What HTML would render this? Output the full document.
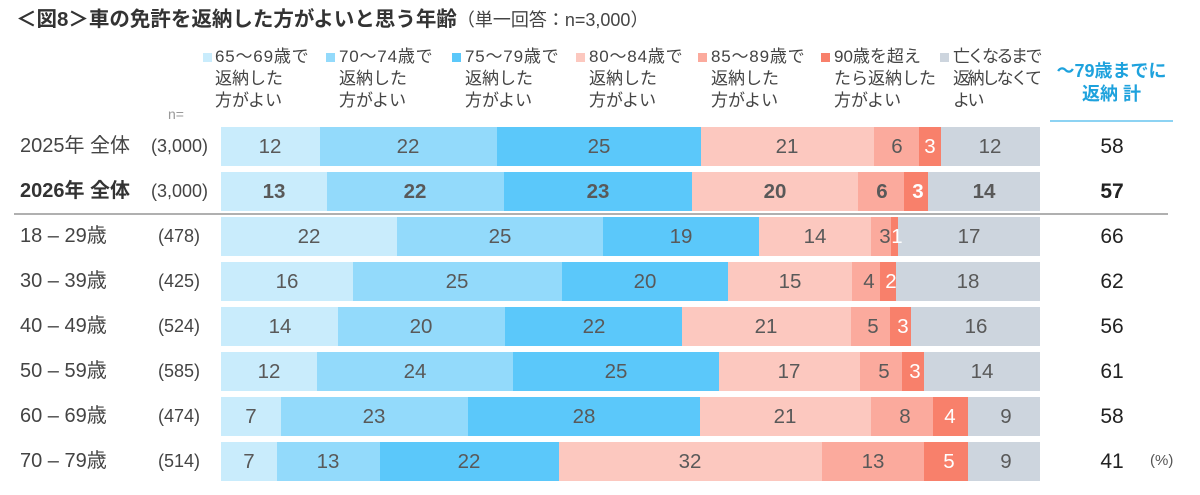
<!DOCTYPE html>
<html><head><meta charset="utf-8">
<style>
*{margin:0;padding:0;box-sizing:border-box}
body{width:1200px;height:495px;overflow:hidden;background:#fff;position:relative;font-family:"Liberation Sans","Noto Sans CJK JP",sans-serif;color:#333}
.a{position:absolute;white-space:nowrap}
.s{position:absolute;height:39px}
.c1{background:#c9ecfc}.c2{background:#93dafb}.c3{background:#5bc8fa}.c4{background:#fcc8bf}.c5{background:#fbaa9d}.c6{background:#f8806b}.c7{background:#cdd5de}
.l{position:absolute;transform:translateX(-50%);font-size:20.5px;line-height:39px;height:39px;color:#595959;white-space:nowrap}
.w{color:#fff}
.b{font-weight:bold}
.lg{position:absolute;font-size:17px;line-height:22px;color:#444;white-space:nowrap}
.lg .d{letter-spacing:0.8px}
.sq{position:absolute;width:9px;height:9px;top:53px}
.rl{position:absolute;font-size:20px;line-height:39px;color:#444;white-space:nowrap}
.rn{position:absolute;font-size:18px;line-height:39px;color:#444;white-space:nowrap}
.rv{position:absolute;left:1072px;width:80px;text-align:center;font-size:21px;line-height:39px;color:#222}
</style></head><body>

<div class="a" style="left:16px;top:6px;font-size:20.5px;line-height:28px;font-weight:bold;color:#333">＜図8＞車の免許を返納した方がよいと思う年齢<span style="font-weight:normal;font-size:18px;color:#444">（単一回答：n=3,000）</span></div>

<!-- legend -->
<div class="sq c1" style="left:203px"></div>
<div class="lg" style="left:215px;top:46px"><span class="d">65～69歳で</span><br>返納した<br>方がよい</div>
<div class="sq c2" style="left:326px"></div>
<div class="lg" style="left:339px;top:46px"><span class="d">70～74歳で</span><br>返納した<br>方がよい</div>
<div class="sq c3" style="left:452px"></div>
<div class="lg" style="left:465px;top:46px"><span class="d">75～79歳で</span><br>返納した<br>方がよい</div>
<div class="sq c4" style="left:576px"></div>
<div class="lg" style="left:589px;top:46px"><span class="d">80～84歳で</span><br>返納した<br>方がよい</div>
<div class="sq c5" style="left:698px"></div>
<div class="lg" style="left:711px;top:46px"><span class="d">85～89歳で</span><br>返納した<br>方がよい</div>
<div class="sq c6" style="left:821px"></div>
<div class="lg" style="left:834px;top:46px">90歳を超え<br>たら返納した<br>方がよい</div>
<div class="sq c7" style="left:940px"></div>
<div class="lg" style="left:953px;top:46px;letter-spacing:-2.5px">亡くなるまで<br>返納しなくて<br>よい</div>

<div class="a" style="left:1048px;top:60px;width:127px;text-align:center;font-size:18px;line-height:23px;font-weight:bold;color:#1ea2dd">～79歳までに<br>返納 計</div>
<div class="a" style="left:1050px;top:120px;width:123px;height:2px;background:#8dd3f3"></div>

<div class="a" style="left:168px;top:106px;font-size:14px;color:#999">n=</div>

<!-- separator -->
<div class="a" style="left:14px;top:213px;width:1154px;height:2px;background:#b0b0b0"></div>

<!-- Row 0 -->
<div class="rl" style="left:20px;top:127px">2025年 全体</div>
<div class="rn" style="left:151px;top:127px">(3,000)</div>
<div class="s c1" style="left:221px;top:127px;width:99px"></div>
<div class="s c2" style="left:320px;top:127px;width:177px"></div>
<div class="s c3" style="left:497px;top:127px;width:204px"></div>
<div class="s c4" style="left:701px;top:127px;width:173px"></div>
<div class="s c5" style="left:874px;top:127px;width:45px"></div>
<div class="s c6" style="left:919px;top:127px;width:22px"></div>
<div class="s c7" style="left:941px;top:127px;width:99px"></div>
<div class="l" style="left:270px;top:127px">12</div>
<div class="l" style="left:408px;top:127px">22</div>
<div class="l" style="left:599px;top:127px">25</div>
<div class="l" style="left:787px;top:127px">21</div>
<div class="l" style="left:897px;top:127px">6</div>
<div class="l w" style="left:930px;top:127px">3</div>
<div class="l" style="left:990px;top:127px">12</div>
<div class="rv" style="top:127px">58</div>

<!-- Row 1 -->
<div class="rl b" style="left:20px;top:172px;color:#333">2026年 全体</div>
<div class="rn" style="left:151px;top:172px">(3,000)</div>
<div class="s c1" style="left:221px;top:172px;width:106px"></div>
<div class="s c2" style="left:327px;top:172px;width:177px"></div>
<div class="s c3" style="left:504px;top:172px;width:188px"></div>
<div class="s c4" style="left:692px;top:172px;width:166px"></div>
<div class="s c5" style="left:858px;top:172px;width:46px"></div>
<div class="s c6" style="left:904px;top:172px;width:24px"></div>
<div class="s c7" style="left:928px;top:172px;width:112px"></div>
<div class="l b" style="left:274px;top:172px">13</div>
<div class="l b" style="left:415px;top:172px">22</div>
<div class="l b" style="left:598px;top:172px">23</div>
<div class="l b" style="left:775px;top:172px">20</div>
<div class="l b" style="left:882px;top:172px">6</div>
<div class="l b w" style="left:918px;top:172px">3</div>
<div class="l b" style="left:984px;top:172px">14</div>
<div class="rv b" style="top:172px">57</div>

<!-- Row 2 -->
<div class="rl" style="left:20px;top:217px">18 – 29歳</div>
<div class="rn" style="left:158px;top:217px">(478)</div>
<div class="s c1" style="left:221px;top:217px;width:176px"></div>
<div class="s c2" style="left:397px;top:217px;width:206px"></div>
<div class="s c3" style="left:603px;top:217px;width:156px"></div>
<div class="s c4" style="left:759px;top:217px;width:112px"></div>
<div class="s c5" style="left:871px;top:217px;width:20px"></div>
<div class="s c6" style="left:891px;top:217px;width:7px"></div>
<div class="s c7" style="left:898px;top:217px;width:142px"></div>
<div class="l" style="left:309px;top:217px">22</div>
<div class="l" style="left:500px;top:217px">25</div>
<div class="l" style="left:681px;top:217px">19</div>
<div class="l" style="left:815px;top:217px">14</div>
<div class="l" style="left:885px;top:217px">3</div>
<div class="l w" style="left:897px;top:217px">1</div>
<div class="l" style="left:969px;top:217px">17</div>
<div class="rv" style="top:217px">66</div>

<!-- Row 3 -->
<div class="rl" style="left:20px;top:262px">30 – 39歳</div>
<div class="rn" style="left:158px;top:262px">(425)</div>
<div class="s c1" style="left:221px;top:262px;width:132px"></div>
<div class="s c2" style="left:353px;top:262px;width:209px"></div>
<div class="s c3" style="left:562px;top:262px;width:166px"></div>
<div class="s c4" style="left:728px;top:262px;width:124px"></div>
<div class="s c5" style="left:852px;top:262px;width:28px"></div>
<div class="s c6" style="left:880px;top:262px;width:16px"></div>
<div class="s c7" style="left:896px;top:262px;width:144px"></div>
<div class="l" style="left:287px;top:262px">16</div>
<div class="l" style="left:457px;top:262px">25</div>
<div class="l" style="left:645px;top:262px">20</div>
<div class="l" style="left:790px;top:262px">15</div>
<div class="l" style="left:869px;top:262px">4</div>
<div class="l w" style="left:891px;top:262px">2</div>
<div class="l" style="left:968px;top:262px">18</div>
<div class="rv" style="top:262px">62</div>

<!-- Row 4 -->
<div class="rl" style="left:20px;top:307px">40 – 49歳</div>
<div class="rn" style="left:158px;top:307px">(524)</div>
<div class="s c1" style="left:221px;top:307px;width:117px"></div>
<div class="s c2" style="left:338px;top:307px;width:167px"></div>
<div class="s c3" style="left:505px;top:307px;width:177px"></div>
<div class="s c4" style="left:682px;top:307px;width:169px"></div>
<div class="s c5" style="left:851px;top:307px;width:39px"></div>
<div class="s c6" style="left:890px;top:307px;width:21px"></div>
<div class="s c7" style="left:911px;top:307px;width:129px"></div>
<div class="l" style="left:280px;top:307px">14</div>
<div class="l" style="left:421px;top:307px">20</div>
<div class="l" style="left:594px;top:307px">22</div>
<div class="l" style="left:766px;top:307px">21</div>
<div class="l" style="left:873px;top:307px">5</div>
<div class="l w" style="left:903px;top:307px">3</div>
<div class="l" style="left:976px;top:307px">16</div>
<div class="rv" style="top:307px">56</div>

<!-- Row 5 -->
<div class="rl" style="left:20px;top:352px">50 – 59歳</div>
<div class="rn" style="left:158px;top:352px">(585)</div>
<div class="s c1" style="left:221px;top:352px;width:96px"></div>
<div class="s c2" style="left:317px;top:352px;width:196px"></div>
<div class="s c3" style="left:513px;top:352px;width:206px"></div>
<div class="s c4" style="left:719px;top:352px;width:141px"></div>
<div class="s c5" style="left:860px;top:352px;width:42px"></div>
<div class="s c6" style="left:902px;top:352px;width:22px"></div>
<div class="s c7" style="left:924px;top:352px;width:116px"></div>
<div class="l" style="left:269px;top:352px">12</div>
<div class="l" style="left:415px;top:352px">24</div>
<div class="l" style="left:616px;top:352px">25</div>
<div class="l" style="left:789px;top:352px">17</div>
<div class="l" style="left:884px;top:352px">5</div>
<div class="l w" style="left:915px;top:352px">3</div>
<div class="l" style="left:982px;top:352px">14</div>
<div class="rv" style="top:352px">61</div>

<!-- Row 6 -->
<div class="rl" style="left:20px;top:397px">60 – 69歳</div>
<div class="rn" style="left:158px;top:397px">(474)</div>
<div class="s c1" style="left:221px;top:397px;width:60px"></div>
<div class="s c2" style="left:281px;top:397px;width:187px"></div>
<div class="s c3" style="left:468px;top:397px;width:232px"></div>
<div class="s c4" style="left:700px;top:397px;width:171px"></div>
<div class="s c5" style="left:871px;top:397px;width:62px"></div>
<div class="s c6" style="left:933px;top:397px;width:35px"></div>
<div class="s c7" style="left:968px;top:397px;width:72px"></div>
<div class="l" style="left:251px;top:397px">7</div>
<div class="l" style="left:374px;top:397px">23</div>
<div class="l" style="left:584px;top:397px">28</div>
<div class="l" style="left:785px;top:397px">21</div>
<div class="l" style="left:905px;top:397px">8</div>
<div class="l w" style="left:950px;top:397px">4</div>
<div class="l" style="left:1006px;top:397px">9</div>
<div class="rv" style="top:397px">58</div>

<!-- Row 7 -->
<div class="rl" style="left:20px;top:442px">70 – 79歳</div>
<div class="rn" style="left:158px;top:442px">(514)</div>
<div class="s c1" style="left:221px;top:442px;width:56px"></div>
<div class="s c2" style="left:277px;top:442px;width:103px"></div>
<div class="s c3" style="left:380px;top:442px;width:179px"></div>
<div class="s c4" style="left:559px;top:442px;width:263px"></div>
<div class="s c5" style="left:822px;top:442px;width:102px"></div>
<div class="s c6" style="left:924px;top:442px;width:44px"></div>
<div class="s c7" style="left:968px;top:442px;width:72px"></div>
<div class="l" style="left:249px;top:442px">7</div>
<div class="l" style="left:328px;top:442px">13</div>
<div class="l" style="left:469px;top:442px">22</div>
<div class="l" style="left:690px;top:442px">32</div>
<div class="l" style="left:873px;top:442px">13</div>
<div class="l w" style="left:949px;top:442px">5</div>
<div class="l" style="left:1006px;top:442px">9</div>
<div class="rv" style="top:442px">41</div>
<div class="a" style="left:1150px;top:452px;font-size:15px;color:#555">(%)</div>

</body></html>
